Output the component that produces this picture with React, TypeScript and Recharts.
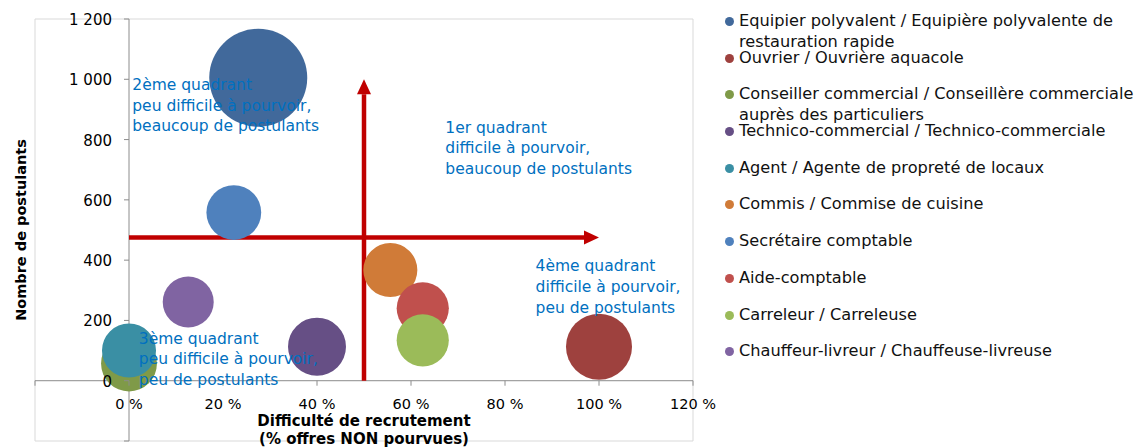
import React from "react";
import {
  ScatterChart, Scatter, XAxis, YAxis, ZAxis, CartesianGrid,
  ReferenceLine, ReferenceDot,
} from "recharts";

// one bubble per job
const jobs = [
  "Equipier polyvalent / Equipière polyvalente de restauration rapide",
  "Ouvrier / Ouvrière aquacole",
  "Conseiller commercial / Conseillère commerciale auprès des particuliers",
  "Technico-commercial / Technico-commerciale",
  "Agent / Agente de propreté de locaux",
  "Commis / Commise de cuisine",
  "Secrétaire comptable",
  "Aide-comptable",
  "Carreleur / Carreleuse",
  "Chauffeur-livreur / Chauffeuse-livreuse",
];
const difficulty = [0.275, 1.0, 0.0, 0.4, 0.0, 0.556, 0.223, 0.625, 0.625, 0.126];
const applicants = [1005, 113, 57, 113, 100, 367, 558, 240, 134, 261];
const bubbleSize = [240, 109, 78, 84, 73, 73, 75, 68, 68, 65];
const colors = [
  "#41699B", "#9E413E", "#7F9A48", "#664F85", "#3A8FA4",
  "#D07B38", "#4F81BD", "#C0504D", "#9BBB59", "#8064A2",
];

const xTicks = [-0.2, 0, 0.2, 0.4, 0.6, 0.8, 1.0, 1.2];
const yTicks = [-200, 0, 200, 400, 600, 800, 1000, 1200];
const xLabels = ["", "0 %", "20 %", "40 %", "60 %", "80 %", "100 %", "120 %"];
const yLabels = ["", "0", "200", "400", "600", "800", "1 000", "1 200"];

// quadrant notes, anchored on their first line
const quadrants = [
  { x: 0.007, y: 981, lines: ["2ème quadrant", "peu difficile à pourvoir,", "beaucoup de postulants"] },
  { x: 0.673, y: 840, lines: ["1er quadrant", "difficile à pourvoir,", "beaucoup de postulants"] },
  { x: 0.865, y: 380, lines: ["4ème quadrant", "difficile à pourvoir,", "peu de postulants"] },
  { x: 0.021, y: 140, lines: ["3ème quadrant", "peu difficile à pourvoir,", "peu de postulants"] },
];

const FONT = "'DejaVu Sans', Verdana, sans-serif";
const AXIS_GREY = "#8C8C8C";
const ARROW_RED = "#C00000";

const Arrow = (p: any) => {
  const { x1, y1, x2, y2 } = p;
  const len = Math.hypot(x2 - x1, y2 - y1) || 1;
  const ux = (x2 - x1) / len, uy = (y2 - y1) / len;
  const head = 15, half = 7;
  const bx = x2 - ux * head, by = y2 - uy * head;
  return (
    <g>
      <line x1={x1} y1={y1} x2={bx} y2={by} stroke={ARROW_RED} strokeWidth={4.5} />
      <polygon
        points={`${x2},${y2} ${bx - uy * half},${by + ux * half} ${bx + uy * half},${by - ux * half}`}
        fill={ARROW_RED}
      />
    </g>
  );
};

const xTickShape = (label: string) => (p: any) => (
  <g>
    <line x1={p.cx} y1={p.cy} x2={p.cx} y2={p.cy + 5} stroke={AXIS_GREY} />
    <text x={p.cx} y={p.cy + 28} textAnchor="middle" fontSize={14.5} fill="#000">{label}</text>
  </g>
);

const yTickShape = (label: string) => (p: any) => (
  <g>
    <line x1={p.cx - 5} y1={p.cy} x2={p.cx} y2={p.cy} stroke={AXIS_GREY} />
    <text x={p.cx - 17} y={p.cy + 6} textAnchor="end" fontSize={15} fill="#000">{label}</text>
  </g>
);

const noteShape = (lines: string[]) => (p: any) => (
  <text x={p.cx} y={p.cy + 5} fontSize={15.5} fill="#0070C0">
    {lines.map((l, i) => (
      <tspan key={i} x={p.cx} dy={i === 0 ? 0 : 20.7}>{l}</tspan>
    ))}
  </text>
);

export default function App() {
  return (
    <div style={{ position: "absolute", left: 0, top: 0, width: 1137, height: 447, background: "#fff", fontFamily: FONT, overflow: "hidden" }}>
      <ScatterChart width={1137} height={447} margin={{ top: 19, right: 444, bottom: 6, left: 35 }}>
        <CartesianGrid stroke="#D9D9D9" />
        <XAxis
          type="number" dataKey="x" domain={[-0.2, 1.2]} ticks={xTicks}
          tick={false} tickLine={false} axisLine={false} height={0} allowDataOverflow
        />
        <YAxis
          type="number" dataKey="y" domain={[-200, 1200]} ticks={yTicks}
          tick={false} tickLine={false} axisLine={false} width={0} allowDataOverflow
        />
        <ZAxis type="number" dataKey="z" domain={[0, 240]} range={[0, Math.PI * 49 * 49]} />

        <ReferenceLine x={0} stroke={AXIS_GREY} />
        <ReferenceLine y={0} stroke={AXIS_GREY} />

        {jobs.map((name, i) => (
          <Scatter
            key={name}
            name={name}
            data={[{ x: difficulty[i], y: applicants[i], z: bubbleSize[i] }]}
            fill={colors[i]}
            isAnimationActive={false}
          />
        ))}

        <ReferenceLine segment={[{ x: 0, y: 475 }, { x: 1, y: 475 }]} shape={Arrow} />
        <ReferenceLine segment={[{ x: 0.5, y: 0 }, { x: 0.5, y: 1000 }]} shape={Arrow} />

        {xTicks.map((t, i) => (
          <ReferenceDot key={"xt" + t} x={t} y={0} r={1} shape={xTickShape(xLabels[i])} />
        ))}
        {yTicks.map((t, i) => (
          <ReferenceDot key={"yt" + t} x={0} y={t} r={1} shape={yTickShape(yLabels[i])} />
        ))}

        {quadrants.map((q) => (
          <ReferenceDot key={q.lines[0]} x={q.x} y={q.y} r={1} shape={noteShape(q.lines)} />
        ))}

        <ReferenceDot
          x={0.5} y={-132} r={1} ifOverflow="visible"
          shape={(p: any) => (
            <text x={p.cx} y={p.cy + 5} textAnchor="middle" fontSize={15} fontWeight="bold" fill="#000">
              <tspan x={p.cx}>Difficulté de recrutement</tspan>
              <tspan x={p.cx} dy={18.5}>(% offres NON pourvues)</tspan>
            </text>
          )}
        />
        <ReferenceDot
          x={-0.229} y={500} r={1} ifOverflow="visible"
          shape={(p: any) => (
            <text
              x={p.cx} y={p.cy} textAnchor="middle" dominantBaseline="central"
              fontSize={14.5} fontWeight="bold" fill="#000"
              transform={`rotate(-90 ${p.cx} ${p.cy})`}
            >
              Nombre de postulants
            </text>
          )}
        />
      </ScatterChart>

      <div style={{ position: "absolute", left: 725, top: 4, width: 415 }}>
        {jobs.map((name, i) => (
          <div key={name} style={{ position: "relative", height: 36.7 }}>
            <span
              style={{
                position: "absolute", left: 0, top: 13, width: 9, height: 9,
                borderRadius: "50%", background: colors[i],
              }}
            />
            <div style={{ position: "absolute", left: 14, top: 6, width: 401, fontSize: 16.2, lineHeight: "21px", color: "#111" }}>
              {name}
            </div>
          </div>
        ))}
      </div>
    </div>
  );
}
